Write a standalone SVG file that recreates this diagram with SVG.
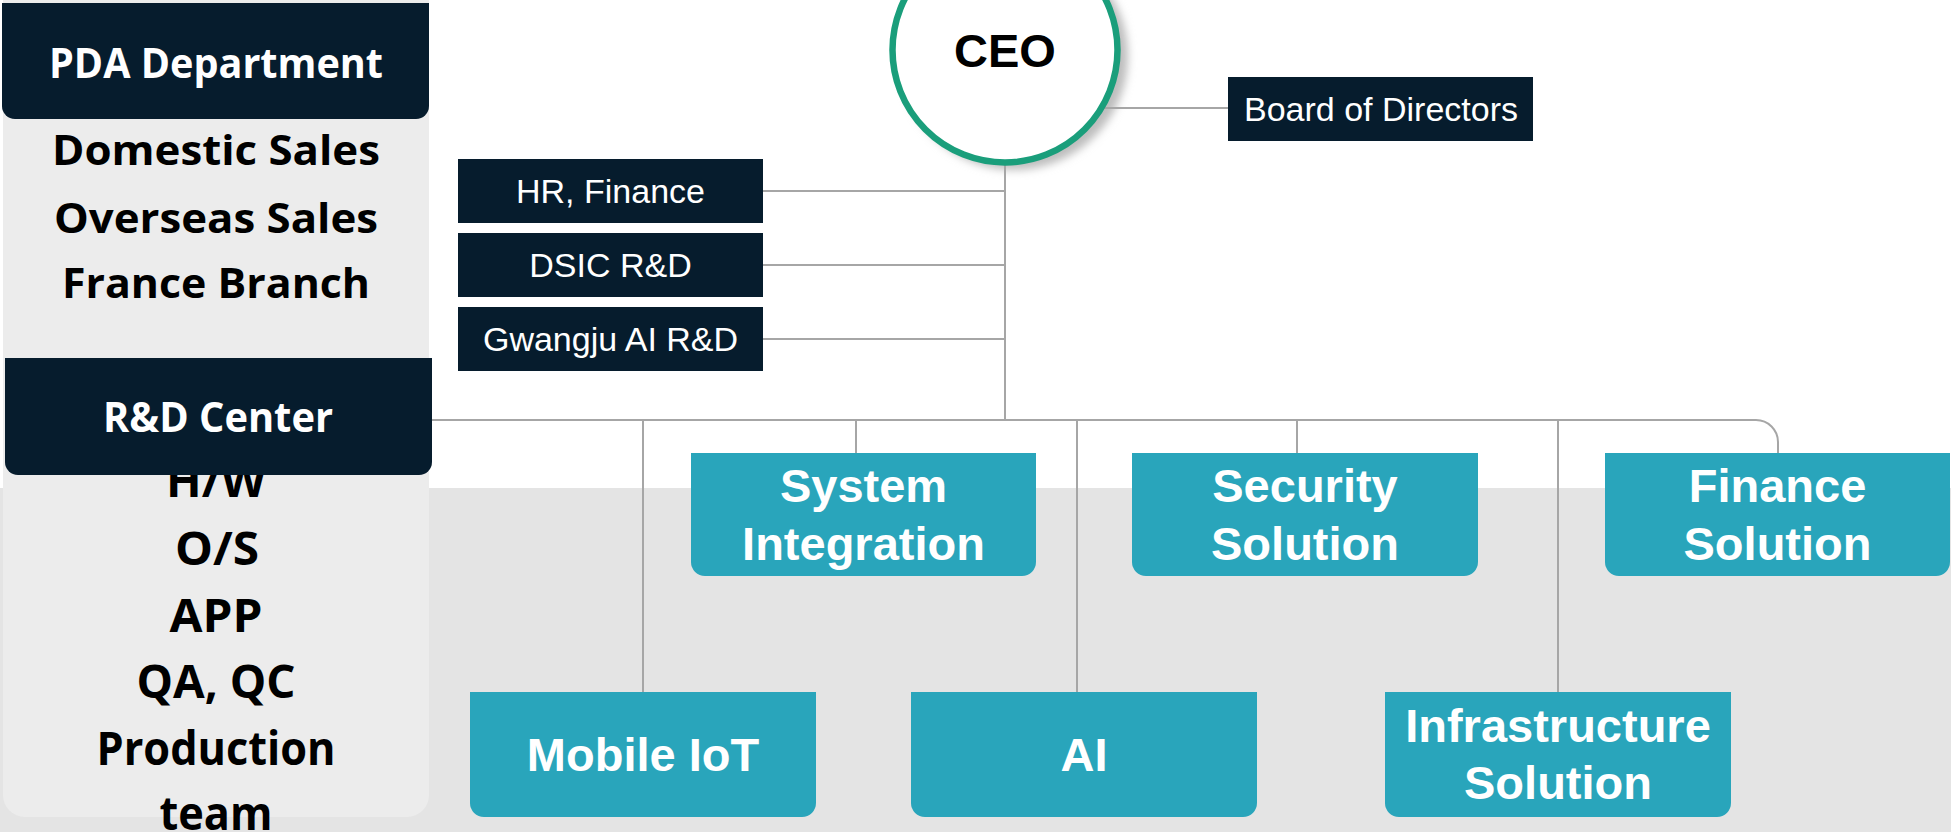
<svg xmlns="http://www.w3.org/2000/svg" width="1951" height="832" viewBox="0 0 1951 832">
<defs>
<style>
.navy{fill:#061c2d}
.teal{fill:#29a5bb}
.hd{font-family:"Open Sans","Liberation Sans",sans-serif;font-weight:700;font-size:42px;fill:#fff;text-anchor:middle}
.it{font-family:"Open Sans","Liberation Sans",sans-serif;font-weight:700;fill:#000;text-anchor:middle}
.sm{font-family:"Liberation Sans",Arial,sans-serif;font-size:34px;fill:#fff;text-anchor:middle}
.tb{font-family:"Liberation Sans",Arial,sans-serif;font-weight:700;font-size:47px;fill:#fff;text-anchor:middle}
.cn{fill:none;stroke:#a6a6a6;stroke-width:2}
</style>
<filter id="blur" x="-20%" y="-20%" width="140%" height="140%">
<feGaussianBlur stdDeviation="4"/>
</filter>
</defs>
<rect x="0" y="0" width="1951" height="832" fill="#ffffff"/>
<rect x="0" y="488" width="1951" height="344" fill="#e4e4e4"/>

<g id="pda-panel">
<path d="M3 0 H429 V795 A22 22 0 0 1 407 817 H25 A22 22 0 0 1 3 795 Z" fill="#ececec"/>
<text class="it" x="216" y="165" font-size="42" textLength="328" lengthAdjust="spacingAndGlyphs">Domestic Sales</text>
<text class="it" x="216" y="233" font-size="42" textLength="324" lengthAdjust="spacingAndGlyphs">Overseas Sales</text>
<text class="it" x="216" y="298" font-size="42" textLength="308" lengthAdjust="spacingAndGlyphs">France Branch</text>
<text class="it" x="216" y="497" font-size="46" textLength="100" lengthAdjust="spacingAndGlyphs">H/W</text>
<text class="it" x="217" y="565" font-size="46" textLength="84" lengthAdjust="spacingAndGlyphs">O/S</text>
<text class="it" x="216" y="632" font-size="46" textLength="93" lengthAdjust="spacingAndGlyphs">APP</text>
<text class="it" x="216" y="698" font-size="46" textLength="159" lengthAdjust="spacingAndGlyphs">QA, QC</text>
<text class="it" x="216" y="765" font-size="46" textLength="239" lengthAdjust="spacingAndGlyphs">Production</text>
<text class="it" x="216" y="830" font-size="46" textLength="113" lengthAdjust="spacingAndGlyphs">team</text>
</g>

<g id="pda-department">
<path class="navy" d="M2 3 H429 V106 A13 13 0 0 1 416 119 H15 A13 13 0 0 1 2 106 Z"/>
<text class="hd" x="216" y="78" textLength="334" lengthAdjust="spacingAndGlyphs">PDA Department</text>
</g>

<g id="rd-center">
<path class="navy" d="M5 358 H432 V462 A13 13 0 0 1 419 475 H18 A13 13 0 0 1 5 462 Z"/>
<text class="hd" x="218" y="432" textLength="230" lengthAdjust="spacingAndGlyphs">R&amp;D Center</text>
</g>

<circle cx="1014" cy="56" r="114" fill="#bdbdbd" filter="url(#blur)"/>

<g id="connectors">
<line class="cn" x1="1005" y1="108" x2="1228" y2="108"/>
<line class="cn" x1="1005" y1="160" x2="1005" y2="420"/>
<line class="cn" x1="763" y1="191" x2="1005" y2="191"/>
<line class="cn" x1="763" y1="265" x2="1005" y2="265"/>
<line class="cn" x1="763" y1="339" x2="1005" y2="339"/>
<path class="cn" d="M432 420 H1756 A22 22 0 0 1 1778 442 V453"/>
<line class="cn" x1="643" y1="420" x2="643" y2="692"/>
<line class="cn" x1="856" y1="420" x2="856" y2="453"/>
<line class="cn" x1="1077" y1="420" x2="1077" y2="692"/>
<line class="cn" x1="1297" y1="420" x2="1297" y2="453"/>
<line class="cn" x1="1558" y1="420" x2="1558" y2="692"/>
</g>

<g id="ceo">
<circle cx="1005" cy="50" r="112.5" fill="#ffffff" stroke="#1a9e7b" stroke-width="6.5"/>
<text x="1005" y="67" font-family="Liberation Sans, Arial, sans-serif" font-weight="700" font-size="47" fill="#000" text-anchor="middle">CEO</text>
</g>

<g id="board">
<rect class="navy" x="1228" y="77" width="305" height="64"/>
<text class="sm" x="1381" y="121">Board of Directors</text>
</g>

<g id="hr-finance">
<rect class="navy" x="458" y="159" width="305" height="64"/>
<text class="sm" x="610.5" y="203">HR, Finance</text>
</g>
<g id="dsic-rd">
<rect class="navy" x="458" y="233" width="305" height="64"/>
<text class="sm" x="610.5" y="277">DSIC R&amp;D</text>
</g>
<g id="gwangju-ai-rd">
<rect class="navy" x="458" y="307" width="305" height="64"/>
<text class="sm" x="610.5" y="351">Gwangju AI R&amp;D</text>
</g>

<g id="system-integration">
<path class="teal" d="M691 453 H1036 V562 A14 14 0 0 1 1022 576 H705 A14 14 0 0 1 691 562 Z"/>
<text class="tb" x="863.5" y="502">System</text>
<text class="tb" x="863.5" y="560">Integration</text>
</g>
<g id="security-solution">
<path class="teal" d="M1132 453 H1478 V562 A14 14 0 0 1 1464 576 H1146 A14 14 0 0 1 1132 562 Z"/>
<text class="tb" x="1305" y="502">Security</text>
<text class="tb" x="1305" y="560">Solution</text>
</g>
<g id="finance-solution">
<path class="teal" d="M1605 453 H1950 V562 A14 14 0 0 1 1936 576 H1619 A14 14 0 0 1 1605 562 Z"/>
<text class="tb" x="1777.5" y="502">Finance</text>
<text class="tb" x="1777.5" y="560">Solution</text>
</g>
<g id="mobile-iot">
<path class="teal" d="M470 692 H816 V803 A14 14 0 0 1 802 817 H484 A14 14 0 0 1 470 803 Z"/>
<text class="tb" x="643" y="771">Mobile IoT</text>
</g>
<g id="ai">
<path class="teal" d="M911 692 H1257 V803 A14 14 0 0 1 1243 817 H925 A14 14 0 0 1 911 803 Z"/>
<text class="tb" x="1084" y="771">AI</text>
</g>
<g id="infrastructure-solution">
<path class="teal" d="M1385 692 H1731 V803 A14 14 0 0 1 1717 817 H1399 A14 14 0 0 1 1385 803 Z"/>
<text class="tb" x="1558" y="742">Infrastructure</text>
<text class="tb" x="1558" y="799">Solution</text>
</g>
</svg>
